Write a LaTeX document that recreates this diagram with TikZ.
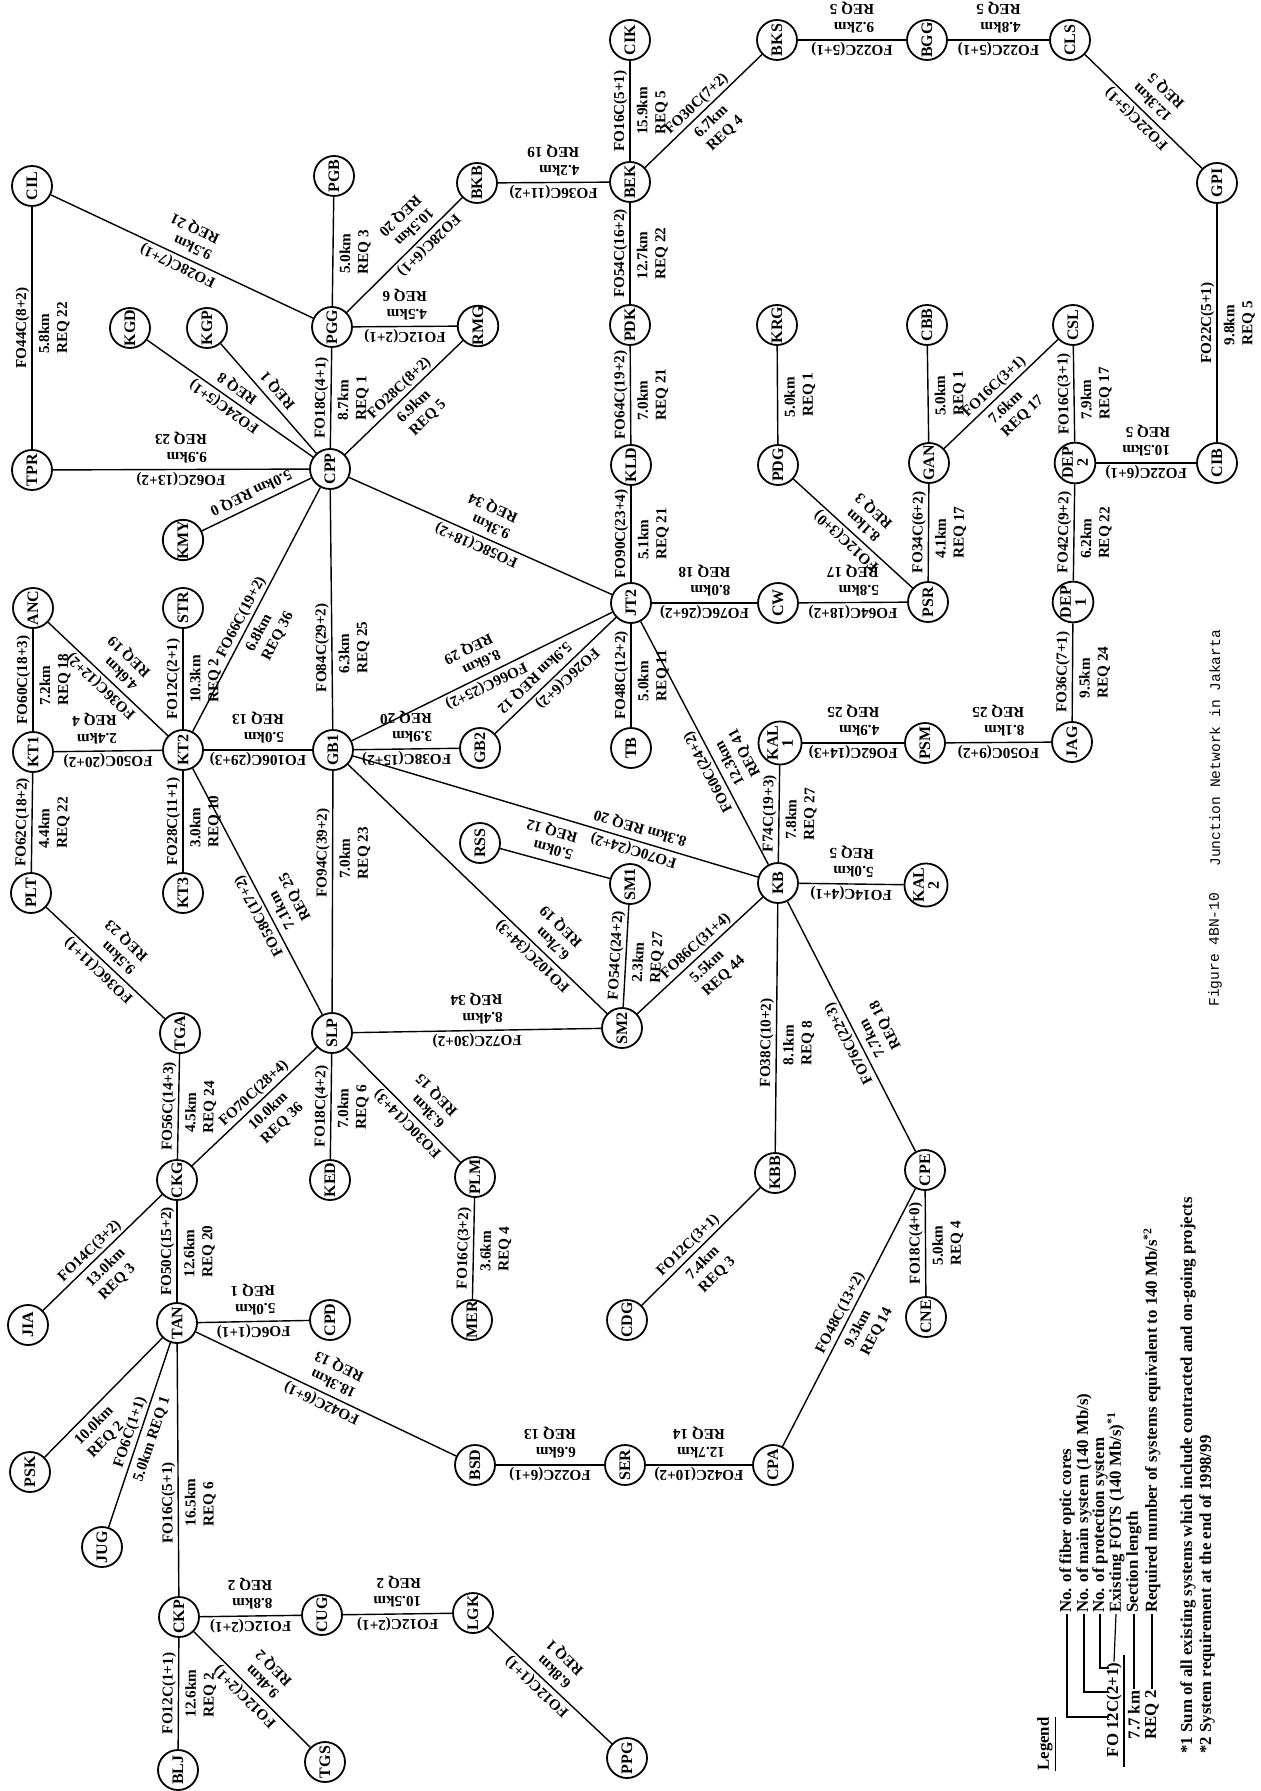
\documentclass[tikz,border=0pt]{standalone}
\usepackage{fontspec}
\setmainfont{Liberation Serif}
\newfontfamily\monof{Liberation Mono}
\tikzset{
  stn/.style={circle, draw, line width=0.9pt, minimum size=20pt, inner sep=0pt,
     font=\bfseries\fontsize{8}{7.5}\selectfont, rotate=90, align=center},
  lnkline/.style={line width=0.7pt},
  lab/.style={font=\bfseries\fontsize{7.6}{9}\selectfont, sloped, allow upside down, inner sep=1pt, align=left},
  leg/.style={font=\bfseries\fontsize{8.4}{9}\selectfont, inner sep=0.5pt, rotate=90, anchor=west},
  legline/.style={line width=0.6pt},
  captxt/.style={font=\monof\fontsize{7.3}{8}\selectfont, inner sep=0pt, rotate=90, anchor=west},
}
\pgfqkeys{/lk}{t/.code={\def\lkt{#1}}, b/.code={\def\lkb{#1}}, a/.code={\def\lkt{#1}\def\lkb{#1}}}
\newcommand\lnk[5][]{\def\lkt{0.5}\def\lkb{0.5}\pgfqkeys{/lk}{#1}%
  \draw[lnkline] (#2) -- (#3) node[lab, pos=\lkt, above] {#4} node[lab, pos=\lkb, below=2pt] {#5};}
\begin{document}
\begin{tikzpicture}[x=0.5pt, y=-0.5pt]
\useasboundingbox (0,0) rectangle (1260,1791);
\fill[white] (0,0) rectangle (1260,1791);
% stations
\node[stn] (CIL) at (32,186) {CIL};
\node[stn] (TPR) at (32,470) {TPR};
\node[stn] (PGB) at (334,176) {PGB};
\node[stn] (KGD) at (130,328) {KGD};
\node[stn] (KGP) at (207,328) {KGP};
\node[stn] (PGG) at (332,327) {PGG};
\node[stn] (RMG) at (478,326) {RMG};
\node[stn] (BKB) at (477,183) {BKB};
\node[stn] (BEK) at (630,182) {BEK};
\node[stn] (CIK) at (630,40) {CIK};
\node[stn] (BKS) at (777,40) {BKS};
\node[stn] (BGG) at (927,40) {BGG};
\node[stn] (CLS) at (1070,40) {CLS};
\node[stn] (GPI) at (1217,183) {GPI};
\node[stn] (PDK) at (630,325) {PDK};
\node[stn] (KRG) at (777,325) {KRG};
\node[stn] (CBB) at (927,325) {CBB};
\node[stn] (CSL) at (1073,325) {CSL};
\node[stn] (CPP) at (330,469) {CPP};
\node[stn] (KMY) at (183,540) {KMY};
\node[stn] (KLD) at (631,465) {KLD};
\node[stn] (PDG) at (778,465) {PDG};
\node[stn] (GAN) at (929,463) {GAN};
\node[stn] (DEP2) at (1075,463) {DEP\\2};
\node[stn] (CIB) at (1217,463) {CIB};
\node[stn] (ANC) at (33,608) {ANC};
\node[stn] (STR) at (183,608) {STR};
\node[stn] (JT2) at (631,603) {JT2};
\node[stn] (CW) at (778,603) {CW};
\node[stn] (PSR) at (928,602) {PSR};
\node[stn] (DEP1) at (1073,602) {DEP\\1};
\node[stn] (KT1) at (33,752) {KT1};
\node[stn] (KT2) at (183,750) {KT2};
\node[stn] (GB1) at (333,750) {GB1};
\node[stn] (GB2) at (480,748) {GB2};
\node[stn] (TB) at (631,748) {TB};
\node[stn] (KAL1) at (780,743) {KAL\\1};
\node[stn] (PSM) at (925,743) {PSM};
\node[stn] (JAG) at (1072,742) {JAG};
\node[stn] (RSS) at (480,843) {RSS};
\node[stn] (SM1) at (630,884) {SM1};
\node[stn] (PLT) at (31,893) {PLT};
\node[stn] (KT3) at (183,893) {KT3};
\node[stn] (KB) at (778,883) {KB};
\node[stn] (KAL2) at (926,885) {KAL\\2};
\node[stn] (TGA) at (180,1033) {TGA};
\node[stn] (SLP) at (332,1033) {SLP};
\node[stn] (SM2) at (622,1028) {SM2};
\node[stn] (CKG) at (177,1180) {CKG};
\node[stn] (KED) at (330,1180) {KED};
\node[stn] (PLM) at (475,1177) {PLM};
\node[stn] (KBB) at (775,1173) {KBB};
\node[stn] (CPE) at (925,1170) {CPE};
\node[stn] (JIA) at (28,1325) {JIA};
\node[stn] (TAN) at (177,1323) {TAN};
\node[stn] (CPD) at (330,1320) {CPD};
\node[stn] (MER) at (472,1320) {MER};
\node[stn] (CDG) at (627,1320) {CDG};
\node[stn] (CNE) at (926,1317) {CNE};
\node[stn] (PSK) at (30,1472) {PSK};
\node[stn] (BSD) at (475,1465) {BSD};
\node[stn] (SER) at (625,1465) {SER};
\node[stn] (CPA) at (773,1465) {CPA};
\node[stn] (JUG) at (102,1547) {JUG};
\node[stn] (CKP) at (179,1617) {CKP};
\node[stn] (CUG) at (322,1615) {CUG};
\node[stn] (LGK) at (473,1613) {LGK};
\node[stn] (BLJ) at (178,1770) {BLJ};
\node[stn] (TGS) at (325,1762) {TGS};
\node[stn] (PPG) at (627,1758) {PPG};
% links
\lnk{TPR}{CIL}{FO44C(8+2)}{5.8km\\REQ 22}
\lnk{PGG}{CIL}{FO28C(7+1)}{9.5km\\REQ 21}
\lnk{PGG}{PGB}{}{5.0km\\REQ 3}
\lnk[a=0.35]{BKB}{PGG}{FO28C(6+1)}{10.5km\\REQ 20}
\lnk{RMG}{PGG}{FO12C(2+1)}{4.5km\\REQ 6}
\lnk{CPP}{KGD}{FO24C(5+1)}{REQ 8}
\lnk{CPP}{KGP}{}{REQ 1}
\lnk{CPP}{PGG}{FO18C(4+1)}{8.7km\\REQ 1}
\lnk[a=0.52]{CPP}{RMG}{FO28C(8+2)}{6.9km\\REQ 5}
\lnk{BEK}{CIK}{FO16C(5+1)}{15.9km\\REQ 5}
\lnk{BEK}{BKB}{FO36C(11+2)}{4.2km\\REQ 19}
\lnk{BEK}{BKS}{FO30C(7+2)}{6.7km\\REQ 4}
\lnk{PDK}{BEK}{FO54C(16+2)}{12.7km\\REQ 22}
\lnk{KLD}{PDK}{FO64C(19+2)}{7.0km\\REQ 21}
\lnk{PDG}{KRG}{}{5.0km\\REQ 1}
\lnk{BGG}{BKS}{FO22C(5+1)}{9.2km\\REQ 5}
\lnk{CLS}{BGG}{FO22C(5+1)}{4.8km\\REQ 5}
\lnk{GPI}{CLS}{FO22C(5+1)}{12.3km\\REQ 5}
\lnk{CIB}{GPI}{FO22C(5+1)}{9.8km\\REQ 5}
\lnk{GAN}{CBB}{}{5.0km\\REQ 1}
\lnk{GAN}{CSL}{FO16C(3+1)}{7.6km\\REQ 17}
\lnk{DEP2}{CSL}{FO16C(3+1)}{7.9km\\REQ 17}
\lnk{CPP}{TPR}{FO62C(13+2)}{9.9km\\REQ 23}
\lnk{CPP}{KMY}{}{5.0km REQ 0}
\lnk[a=0.45]{KT2}{CPP}{FO66C(19+2)}{6.8km\\REQ 36}
\lnk[a=0.34]{GB1}{CPP}{FO84C(29+2)}{6.3km\\REQ 25}
\lnk{KT1}{ANC}{FO60C(18+3)}{7.2km\\REQ 18}
\lnk{KT2}{ANC}{FO36C(12+2)}{4.6km\\REQ 19}
\lnk{KT2}{STR}{FO12C(2+1)}{10.3km\\REQ 2}
\lnk[b=0.62]{KT2}{KT1}{FO50C(20+2)}{2.4km\\REQ 4}
\lnk{GB1}{KT2}{FO106C(29+3)}{5.0km\\REQ 13}
\lnk{PLT}{KT1}{FO62C(18+2)}{4.4km\\REQ 22}
\lnk{KT3}{KT2}{FO28C(11+1)}{3.0km\\REQ 10}
\lnk[a=0.66]{SLP}{GB1}{FO94C(39+2)}{7.0km\\REQ 23}
\lnk[a=0.42]{SLP}{KT2}{FO58C(17+2)}{7.1km\\REQ 25}
\lnk{JT2}{CPP}{FO58C(18+2)}{9.3km\\REQ 34}
\lnk{JT2}{KLD}{FO90C(23+4)}{5.1km\\REQ 21}
\lnk{CW}{JT2}{FO76C(26+2)}{8.0km\\REQ 18}
\lnk{JT2}{GB1}{FO66C(25+2)}{8.6km\\REQ 29}
\lnk[t=0.46,b=0.6]{JT2}{GB2}{FO26C(6+2)}{5.9km REQ 12}
\lnk{GB2}{GB1}{FO38C(15+2)}{3.9km\\REQ 20}
\lnk{TB}{JT2}{FO48C(12+2)}{5.0km\\REQ 11}
\lnk[a=0.4]{KB}{JT2}{FO60C(24+2)}{12.3km\\REQ 41}
\lnk[a=0.3]{KB}{GB1}{FO70C(24+2)}{8.3km REQ 20}
\lnk[a=0.6]{SM1}{RSS}{}{5.0km\\REQ 12}
\lnk{KB}{KAL1}{F74C(19+3)}{7.8km\\REQ 27}
\lnk{PSM}{KAL1}{FO62C(14+3)}{4.9km\\REQ 25}
\lnk{PSR}{PDG}{FO12C(3+0)}{8.1km\\REQ 3}
\lnk{PSR}{CW}{FO64C(18+2)}{5.8km\\REQ 17}
\lnk{PSR}{GAN}{FO34C(6+2)}{4.1km\\REQ 17}
\lnk{CIB}{DEP2}{FO22C(6+1)}{10.5km\\REQ 5}
\lnk{DEP1}{DEP2}{FO42C(9+2)}{6.2km\\REQ 22}
\lnk{JAG}{DEP1}{FO36C(7+1)}{9.5km\\REQ 24}
\lnk{JAG}{PSM}{FO50C(9+2)}{8.1km\\REQ 25}
\lnk{KAL2}{KB}{FO14C(4+1)}{5.0km\\REQ 5}
\lnk{TGA}{PLT}{FO36C(11+1)}{9.5km\\REQ 23}
\lnk{CKG}{TGA}{FO56C(14+3)}{4.5km\\REQ 24}
\lnk[a=0.55]{CKG}{SLP}{FO70C(28+4)}{10.0km\\REQ 36}
\lnk{KED}{SLP}{FO18C(4+2)}{7.0km\\REQ 6}
\lnk[a=0.4]{PLM}{SLP}{FO30C(14+3)}{6.3km\\REQ 15}
\lnk[a=0.45]{JIA}{CKG}{FO14C(3+2)}{13.0km\\REQ 3}
\lnk{TAN}{CKG}{FO50C(15+2)}{12.6km\\REQ 20}
\lnk{CPD}{TAN}{FO6C(1+1)}{5.0km\\REQ 1}
\lnk{SM2}{SLP}{FO72C(30+2)}{8.4km\\REQ 34}
\lnk[a=0.26]{SM2}{GB1}{FO102C(34+3)}{6.7km\\REQ 19}
\lnk{SM2}{SM1}{FO54C(24+2)}{2.3km\\REQ 27}
\lnk[a=0.52]{SM2}{KB}{FO86C(31+4)}{5.5km\\REQ 44}
\lnk[a=0.44]{KBB}{KB}{FO38C(10+2)}{8.1km\\REQ 8}
\lnk{MER}{PLM}{FO16C(3+2)}{3.6km\\REQ 4}
\lnk[a=0.45]{CDG}{KBB}{FO12C(3+1)}{7.4km\\REQ 3}
\lnk[a=0.45]{CPE}{KB}{FO76C(22+3)}{7.7km\\REQ 18}
\lnk{CNE}{CPE}{FO18C(4+0)}{5.0km\\REQ 4}
\lnk{CPA}{CPE}{FO48C(13+2)}{9.3km\\REQ 14}
\lnk[a=0.34]{PSK}{TAN}{}{10.0km\\REQ 2}
\lnk{JUG}{TAN}{FO6C(1+1)}{5.0km REQ 1}
\lnk[a=0.37]{CKP}{TAN}{FO16C(5+1)}{16.5km\\REQ 6}
\lnk{BSD}{TAN}{FO42C(6+1)}{18.3km\\REQ 13}
\lnk{CUG}{CKP}{FO12C(2+1)}{8.8km\\REQ 2}
\lnk{LGK}{CUG}{FO12C(2+1)}{10.5km\\REQ 2}
\lnk{BLJ}{CKP}{FO12C(1+1)}{12.6km\\REQ 2}
\lnk{TGS}{CKP}{FO12C(2+1)}{9.4km\\REQ 2}
\lnk{SER}{BSD}{FO22C(6+1)}{6.6km\\REQ 13}
\lnk{CPA}{SER}{FO42C(10+2)}{12.7km\\REQ 14}
\lnk[a=0.55]{PPG}{LGK}{FO12C(1+1)}{6.8km\\REQ 1}
% legend
\node[leg] (lgt) at (1047,1772) {\underline{Legend}};
\node[leg, anchor=center] (lfo) at (1114,1710) {FO 12C(2+1)};
\node[leg, anchor=center] (lkm) at (1134,1715) {7.7 km};
\node[leg, anchor=center] (lrq) at (1152,1715) {REQ 2};
\draw[legline] (1124,1655) -- (1124,1767);
\node[leg] (t1) at (1067,1614) {No. of fiber optic cores};
\node[leg] (t2) at (1084,1614) {No. of main system (140 Mb/s)};
\node[leg] (t3) at (1100,1614) {No. of protection system};
\node[leg] (t4) at (1116,1614) {Existing FOTS (140 Mb/s)\textsuperscript{*1}};
\node[leg] (t5) at (1134,1614) {Section length};
\node[leg] (t6) at (1152,1614) {Required number of systems equivalent to 140 Mb/s\textsuperscript{*2}};
\draw[legline] (t1.west) -- (1067,1717) -- (1109,1717);
\draw[legline] (t2.west) -- (1084,1692) -- (1109,1692);
\draw[legline] (t3.west) -- (1100,1668) -- (1109,1668);
\draw[legline] (t4.west) -- (lfo.east);
\draw[legline] (t5.west) -- (lkm.east);
\draw[legline] (t6.west) -- (lrq.east);
\node[leg] (fn1) at (1188,1755) {*1 Sum of all existing systems which include contracted and on-going projects};
\node[leg] (fn2) at (1207,1755) {*2 System requirement at the end of 1998/99};
% caption
\node[captxt] (fig) at (1215,1007) {Figure 4BN-10};
\node[captxt] (ttl) at (1215,867) {Junction Network in Jakarta};
\end{tikzpicture}
\end{document}
